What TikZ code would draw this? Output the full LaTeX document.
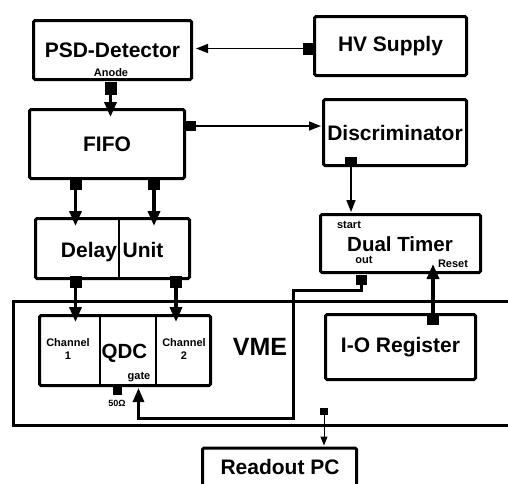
\documentclass[tikz,border=0pt]{standalone}
\usepackage{fontspec}
\setmainfont{Liberation Sans}
\usetikzlibrary{arrows.meta}
\begin{document}
\begin{tikzpicture}[x=1pt,y=-1pt,
  blk/.style={draw, line width=3pt, rounded corners=1.5pt, inner sep=0pt},
  port/.style={fill, inner sep=0pt, minimum width=12pt, minimum height=12pt},
  big/.style={font=\fontsize{21}{24}\selectfont\bfseries},
  reg/.style={font=\fontsize{20.5}{22}\selectfont\bfseries},
  sm/.style={font=\fontsize{11}{13}\selectfont\bfseries, inner sep=0pt, align=center},
  thk/.style={line width=3.5pt, -{Triangle[length=15pt,width=12pt]}},
  thn/.style={line width=1.5pt, -{Triangle[length=12pt,width=9pt]}},
  wire/.style={line width=3pt, -{Triangle[length=14pt,width=11pt]}},
  fine/.style={line width=1pt, -{Triangle[length=9pt,width=7pt]}},
  frame/.style={line width=3pt}
]
\clip (0,0) rectangle (508,483);
\fill[white] (0,0) rectangle (508,483);

% boxes
\node[blk, big, minimum width=158pt, minimum height=59pt] (psd) at (112.5,50) {PSD-Detector};
\node[blk, big, minimum width=152pt, minimum height=59pt] (hv) at (390.5,46) {HV Supply};
\node[blk, big, minimum width=155pt, minimum height=69pt] (fifo) at (107,144) {FIFO};
\node[blk, big, minimum width=143pt, minimum height=66pt] (disc) at (395,132.5) {Discriminator};
\node[blk, minimum width=154pt, minimum height=60pt] (delay) at (112.5,248.5) {};
\node[blk, minimum width=160pt, minimum height=58pt] (dual) at (400.5,243.5) {};
\node[reg, anchor=base] (dualt) at (400,251.5) {Dual Timer};
\node[blk, minimum width=171pt, minimum height=70pt] (qdc) at (125,350.5) {};
\node[blk, big, minimum width=150pt, minimum height=65pt] (io) at (400.5,347) {I-O Register};
\node[blk, minimum width=154pt, minimum height=60pt] (pc) at (279.5,478) {};
\node[big] (pctext) at (280,467) {Readout PC};

% dividers and inner texts
\draw[line width=1.5pt] (119,218.5) -- (119,278.5);
\node[big, anchor=base] (delayt) at (89,257.5) {Delay};
\node[big, anchor=base] (unitt) at (143,257.5) {Unit};
\draw[line width=1.5pt] (100,315.5) -- (100,385.5);
\draw[line width=1.5pt] (156,315.5) -- (156,385.5);
\node[reg, anchor=base] (qdct) at (124.5,358) {QDC};
\node[sm] (ch1) at (68,349) {Channel\\1};
\node[sm] (ch2) at (184,349) {Channel\\2};
\node[sm] (gate) at (139,377) {gate};
\node[sm, font=\fontsize{9}{10}\selectfont\bfseries] (ohm) at (117,403) {50Ω};
\node[sm] (anode) at (111,73) {Anode};
\node[sm] (start) at (349,225) {start};
\node[sm] (out) at (364,260) {out};
\node[sm] (reset) at (453,264) {Reset};

% VME frame
\draw[frame] (515,301) -| (13,425) -- (515,425);
\node[font=\fontsize{25}{28}\selectfont\bfseries] (vme) at (260,347) {VME};

% ports
\node[port, minimum height=13pt] (pa) at (110.5,88) {};
\node[port] (hvp) at (309,48.5) {};
\node[port, minimum width=10pt, minimum height=10pt] (fr) at (191,126) {};
\node[port] (fb1) at (75.5,184) {};
\node[port] (fb2) at (154,184) {};
\node[port] (db1) at (75.5,282) {};
\node[port] (db2) at (176,282) {};
\node[port, minimum height=9pt] (dp) at (351,161.5) {};
\node[port, minimum width=11pt, minimum height=10pt] (dop) at (361.5,280) {};
\node[port] (iop) at (433,319) {};
\node[port, minimum width=9pt, minimum height=9pt] (qp) at (117.5,390.5) {};
\node[port, minimum width=8pt, minimum height=7pt] (rp) at (324,411) {};

% connectors
\draw[thk] (pa.south) -- ([yshift=-9pt]fifo.north -| pa.south);
\draw[thn] (hvp.west) -- ([xshift=3pt]psd.east |- hvp.west);
\draw[thn] (fr.east) -- ([xshift=-1pt]disc.west |- fr.east);
\draw[thk] (fb1.south) -- ([yshift=-9pt]delay.north -| fb1.south);
\draw[thk] (fb2.south) -- ([yshift=-9pt]delay.north -| fb2.south);
\draw[thk] (db1.south) -- ([yshift=-8pt]qdc.north -| db1.south);
\draw[thk] (db2.south) -- ([yshift=-8pt]qdc.north -| db2.south);
\draw[thn] (dp.south) -- ([yshift=1pt]dual.north -| dp.south);
\draw[thk] (iop.north) -- ([yshift=10pt]dual.south -| iop.north);
\coordinate (w1) at (293.5,290);
\coordinate (w2) at (293.5,418);
\coordinate (g) at (138.5,418);
\draw[wire] (dop.south) |- (w1) -- (w2) -- (g) -- ([yshift=-1pt]qdc.south -| g);
\draw[fine] (rp.south) -- ([yshift=1pt]pc.north -| rp.south);
\end{tikzpicture}
\end{document}
